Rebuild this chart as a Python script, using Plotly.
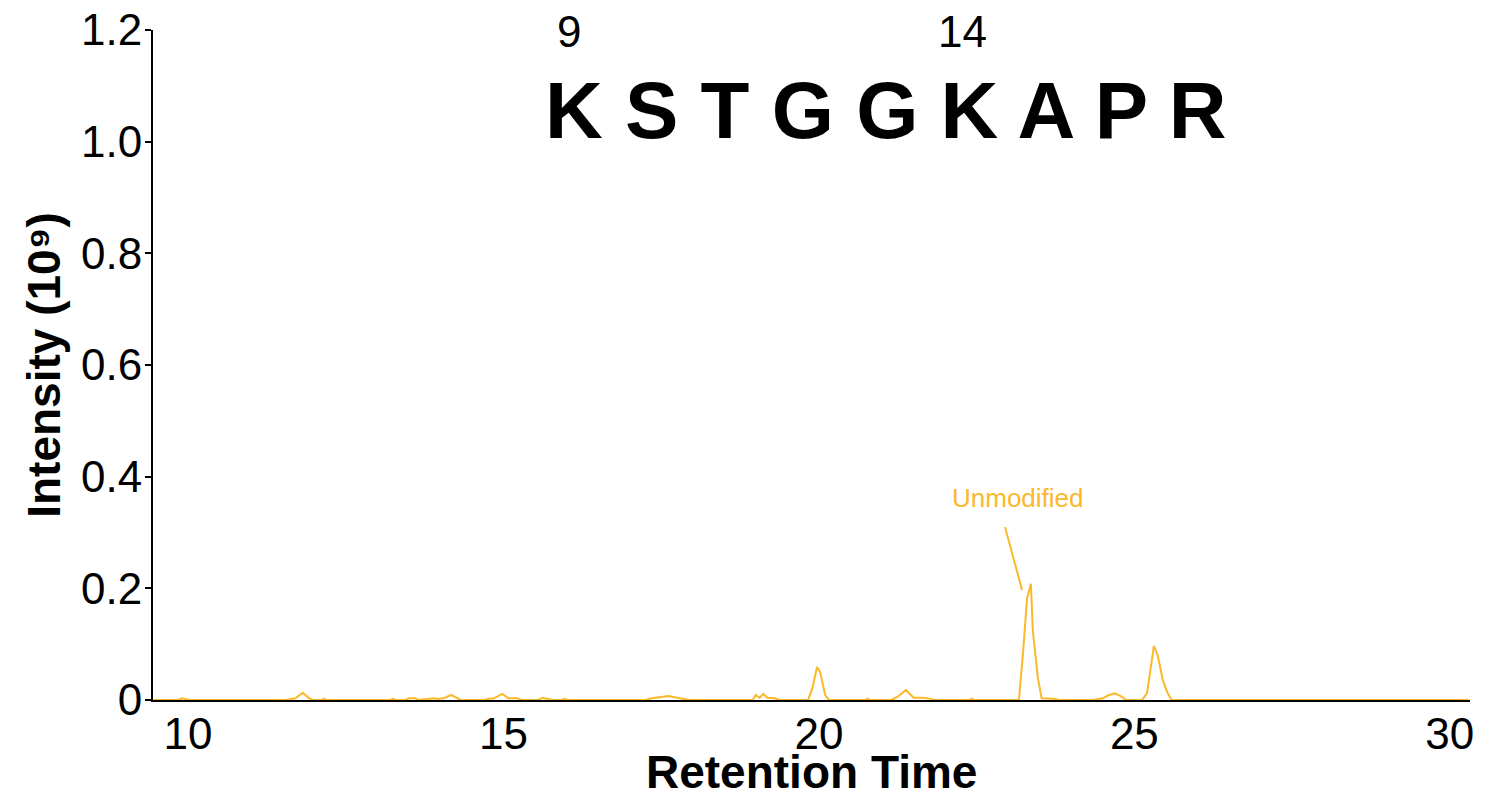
import plotly.graph_objects as go

# Extracted ion chromatogram of the unmodified KSTGGKAPR peptide
retention_time = [
    9.45, 9.85, 9.9, 9.97, 10.02,
    11.55, 11.62, 11.7, 11.82, 11.92, 11.98,
    12.12, 12.16, 12.2,
    13.2, 13.25, 13.3, 13.45, 13.5, 13.6, 13.65, 13.8, 13.9, 13.95, 14.05, 14.17, 14.27, 14.32,
    14.7, 14.75, 14.85, 14.98, 15.08, 15.22, 15.28,
    15.55, 15.62, 15.72, 15.78, 15.92, 15.97, 16.02,
    17.25, 17.35, 17.5, 17.62, 17.75, 17.9, 17.95,
    18.95, 19.0, 19.06, 19.12, 19.18, 19.3, 19.38,
    19.83, 19.9, 19.97, 20.02, 20.1, 20.16,
    20.73, 20.77, 20.81,
    21.15, 21.25, 21.38, 21.5, 21.65, 21.78, 21.82,
    22.38, 22.42, 22.46,
    23.17, 23.23, 23.3, 23.36, 23.39, 23.47, 23.53, 23.75, 23.8,
    24.35, 24.5, 24.58, 24.69, 24.8, 24.87,
    25.12, 25.2, 25.31, 25.37, 25.45, 25.52, 25.59,
    30.3,
]
intensity = [
    0, 0, 0.003, 0.002, 0,
    0, 0.002, 0.003, 0.013, 0.003, 0,
    0, 0.002, 0,
    0, 0.002, 0, 0, 0.003, 0.003, 0, 0.002, 0.003, 0.002, 0.003, 0.009, 0.002, 0,
    0, 0.002, 0.003, 0.011, 0.003, 0.003, 0,
    0, 0.004, 0.002, 0, 0, 0.002, 0,
    0, 0.003, 0.005, 0.007, 0.004, 0.002, 0,
    0, 0.009, 0.004, 0.011, 0.004, 0.003, 0,
    0, 0.023, 0.059, 0.05, 0.009, 0,
    0, 0.002, 0,
    0, 0.006, 0.018, 0.004, 0.004, 0.002, 0,
    0, 0.002, 0,
    0, 0.077, 0.183, 0.208, 0.125, 0.04, 0.003, 0.002, 0,
    0, 0.003, 0.008, 0.012, 0.006, 0,
    0, 0.012, 0.097, 0.08, 0.036, 0.014, 0,
    0,
]

x_ticks = [10, 15, 20, 25, 30]
y_ticks = [0, 0.2, 0.4, 0.6, 0.8, 1.0, 1.2]
y_tick_labels = ["0", "0.2", "0.4", "0.6", "0.8", "1.0", "1.2"]

sequence = "K S T G G K A P R"
residue_numbers = ["9", "14"]
residue_x = [16.04, 22.27]

trace_color = "#FBB829"
font_family = "Liberation Sans, Arial, sans-serif"

fig = go.Figure()
fig.add_trace(go.Scatter(
    x=retention_time, y=intensity, mode="lines",
    line=dict(color=trace_color, width=2),
    showlegend=False, hoverinfo="skip",
))

# Peak label with its leader line
fig.add_shape(type="line", xref="x", yref="y",
              x0=22.95, y0=0.31, x1=23.22, y1=0.197,
              line=dict(color=trace_color, width=2))
fig.add_annotation(x=23.15, y=0.362, xref="x", yref="y", text="Unmodified",
                   showarrow=False, font=dict(size=26, color=trace_color, family=font_family))

# Peptide sequence with residue numbering
fig.add_annotation(x=21.06, y=1.056, xref="x", yref="y", text="<b>" + sequence + "</b>",
                   showarrow=False, yanchor="middle",
                   font=dict(size=80, color="black", family=font_family))
for label, xpos in zip(residue_numbers, residue_x):
    fig.add_annotation(x=xpos, y=1.198, xref="x", yref="y", text=label,
                       showarrow=False, yanchor="middle",
                       font=dict(size=44, color="black", family=font_family))

# x-axis title placed below the tick labels
fig.add_annotation(x=0.5, y=-0.107, xref="paper", yref="paper",
                   text="<b>Retention Time</b>", showarrow=False,
                   xanchor="center", yanchor="middle",
                   font=dict(size=46, color="black", family=font_family))

fig.update_layout(
    width=1487, height=793,
    margin=dict(l=153, r=17, t=30, b=93),
    plot_bgcolor="white", paper_bgcolor="white",
    font=dict(family=font_family, color="black", size=44),
    xaxis=dict(
        range=[9.445, 30.32], tickvals=x_ticks, ticks="",
        showline=True, linecolor="black", linewidth=2,
        showgrid=False, zeroline=False, automargin=False,
        tickfont=dict(size=44), ticklabelstandoff=-6,
    ),
    yaxis=dict(
        range=[0, 1.2], tickvals=y_ticks, ticktext=y_tick_labels,
        ticks="outside", ticklen=6, tickwidth=2, tickcolor="black",
        showline=True, linecolor="black", linewidth=2,
        showgrid=False, zeroline=False, automargin=False,
        tickfont=dict(size=44), ticklabelstandoff=-6,
        title=dict(text="<b>Intensity (10⁹)</b>", font=dict(size=46), standoff=6),
    ),
)

fig.write_html("out.html")
